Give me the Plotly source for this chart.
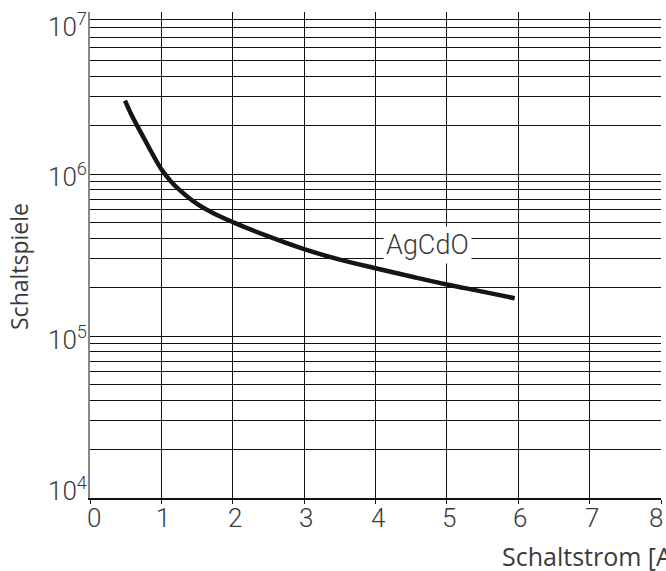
import plotly.graph_objects as go

# Data
current_A = [0.49, 0.6, 0.75, 0.9, 1.0, 1.125, 1.25, 1.5, 1.75, 2.0, 2.5, 3.0, 3.5, 4.0, 4.5, 5.0, 5.5, 5.95]
cycles = [2.84e6, 2.23e6, 1.68e6, 1.27e6, 1.07e6, 9.1e5, 8.0e5, 6.53e5, 5.66e5, 5.05e5,
          4.12e5, 3.44e5, 2.96e5, 2.62e5, 2.33e5, 2.08e5, 1.88e5, 1.71e5]
series_name = "AgCdO"
x_ticks = [0, 1, 2, 3, 4, 5, 6, 7, 8]
decades = [4, 5, 6, 7]
y_title = "Schaltspiele"
x_title = "Schaltstrom [A]"

num_font = "Roboto, Liberation Sans Narrow, sans-serif"
txt_font = "Open Sans, DejaVu Sans, sans-serif"
txt_color = "#3a3a3a"

# all log grid values 1..9 x 10^n
grid_vals = []
for d in decades[:-1]:
    for m in range(1, 10):
        grid_vals.append(m * 10 ** d)
grid_vals.append(10 ** decades[-1])

fig = go.Figure()
fig.add_trace(go.Scatter(
    x=current_A, y=cycles, mode="lines", name=series_name,
    line=dict(color="#151515", width=4.5, shape="spline", smoothing=1.0),
    showlegend=False, hoverinfo="skip",
))

fig.update_layout(
    width=666, height=571,
    margin=dict(l=90, r=5, t=12, b=73, autoexpand=False),
    paper_bgcolor="white", plot_bgcolor="white",
    showlegend=False,
)
fig.update_xaxes(
    range=[0, 8], tickvals=x_ticks, showticklabels=False,
    showgrid=True, gridcolor="#111", gridwidth=1.2,
    zeroline=False, showline=True, linecolor="#111", linewidth=1.5,
    ticks="outside", ticklen=4, tickcolor="#111", tickwidth=1.2,
    automargin=False,
)
fig.update_yaxes(
    type="log", range=[4, 7], tickvals=grid_vals, showticklabels=False,
    showgrid=True, gridcolor="#111", gridwidth=1.2,
    zeroline=False, showline=True, linecolor="#888", linewidth=1.5,
    ticks="", automargin=False,
)

# x tick labels
x_label_shift = {0: 4, 8: -5}
for v in x_ticks:
    fig.add_annotation(
        x=v, xref="x", xanchor="center", xshift=x_label_shift.get(v, 2),
        y=0, yref="paper", yanchor="middle", yshift=-20,
        text=str(v), showarrow=False,
        font=dict(family=num_font, size=26, color=txt_color, weight=300),
    )

# decade labels
shifts = {7: -13, 6: -1, 5: -2, 4: 9}
for d in decades:
    fig.add_annotation(
        x=0, xref="paper", xanchor="right", xshift=-1,
        y=d, yref="y", yanchor="middle", yshift=shifts[d],
        text=f"10<sup>{d}</sup>", showarrow=False,
        font=dict(family=num_font, size=26, color=txt_color, weight=300),
    )

# series label
fig.add_annotation(
    x=4.73, y=5.564, xref="x", yref="y", text=series_name, showarrow=False,
    bgcolor="white", borderpad=2,
    font=dict(family=num_font, size=27, color=txt_color, weight=300),
)

# axis titles
fig.add_annotation(
    x=-71 / 571, xref="paper", y=0.5, yref="paper", yshift=-12,
    text=y_title, showarrow=False, textangle=-90,
    xanchor="center", yanchor="middle",
    font=dict(family=txt_font, size=23, color=txt_color),
)
fig.add_annotation(
    x=(500 - 90) / 571, xref="paper", xanchor="left",
    y=0, yref="paper", yanchor="middle", yshift=-58,
    text=x_title, showarrow=False,
    font=dict(family=txt_font, size=25, color=txt_color),
)

fig.write_html(
    "out.html",
    config={"displayModeBar": False},
    post_script="document.body.style.margin='0';document.body.style.overflow='hidden';",
)
